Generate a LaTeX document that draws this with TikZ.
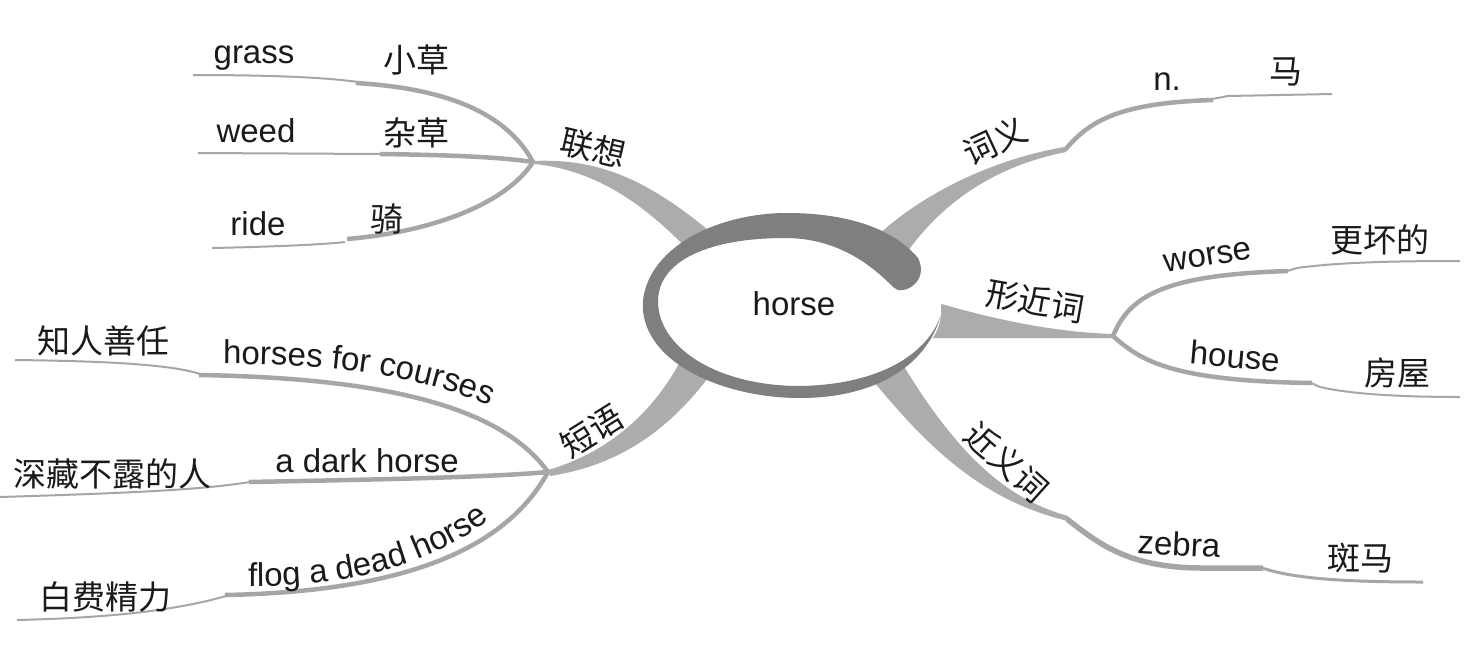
\documentclass[tikz,border=0pt]{standalone}
\usepackage{fontspec}
\setmainfont{Liberation Sans}
\newfontfamily\cjk{Noto Sans CJK SC}
\usetikzlibrary{decorations.text}
\definecolor{ringc}{HTML}{7F7F7F}
\definecolor{brc}{HTML}{ACACAC}
\definecolor{subc}{HTML}{A6A6A6}
\definecolor{txt}{HTML}{1A1A1A}
\begin{document}
\begin{tikzpicture}[x=1pt,y=-1pt,
  en/.style={font=\fontsize{33}{33}\selectfont, text=txt, inner sep=0pt},
  zh/.style={font=\cjk\fontsize{33}{33}\selectfont, text=txt, inner sep=0pt},
  branchfill/.style={fill=brc},
  thickseg/.style={draw=subc, line width=4.5pt},
  thinseg/.style={draw=subc, line width=2pt}]
\useasboundingbox[fill=white] (0,0) rectangle (1464,646);

\coordinate (J1) at (533,162);
\coordinate (J2) at (1065,150);
\coordinate (J3) at (1113,336);
\coordinate (J4) at (1067,519);
\coordinate (J5) at (548,472);

% ---- main branches
\fill[branchfill] (533,161) .. controls (600,158) and (650,180) .. (720,240) -- (700,262) .. controls (660,220) and (610,172) .. (535,164) -- cycle;
\fill[branchfill] (875,238) .. controls (920,195) and (990,160) .. (1064,147) -- (1066,152) .. controls (1000,165) and (945,198) .. (905,255) -- cycle;
\fill[branchfill] (925,300) -- (938,303) .. controls (990,318) and (1050,332) .. (1113,334) -- (1113,338) .. controls (1050,338) and (990,338) .. (930,338) -- cycle;
\fill[branchfill] (866,372) .. controls (925,445) and (980,500) .. (1068,521) -- (1068,516) .. controls (1010,500) and (960,460) .. (900,360) -- cycle;
\fill[branchfill] (548,470) .. controls (600,455) and (650,420) .. (682,358) -- (714,370) .. controls (670,430) and (620,465) .. (550,476) -- cycle;

% ---- sub lines (lianxiang)
\draw[thinseg] (193,75) .. controls (280,75) and (330,78) .. (358,82);
\draw[thickseg] (356,83) .. controls (440,88) and (505,110) .. (J1);
\draw[thinseg] (198,153) -- (380,154);
\draw[thickseg] (380,154) .. controls (450,155) and (500,157) .. (J1);
\draw[thinseg] (212,248) .. controls (260,247) and (320,245) .. (345,242);
\draw[thickseg] (347,239) .. controls (430,232) and (505,205) .. (J1);
% ---- ciyi
\draw[thickseg] (J2) .. controls (1090,120) and (1120,103) .. (1213,100);
\draw[thinseg] (1212,99) -- (1228,96) -- (1332,94);
% ---- xingjinci
\draw[thickseg] (J3) .. controls (1130,295) and (1165,275) .. (1288,271);
\draw[thinseg] (1287,271) -- (1297,268) .. controls (1340,262) and (1400,261) .. (1460,261);
\draw[thickseg] (J3) .. controls (1140,360) and (1170,381) .. (1312,383);
\draw[thinseg] (1311,383) -- (1320,387) .. controls (1350,394) and (1400,397) .. (1460,397);
% ---- jinyici
\draw[thickseg, line width=5.5pt] (J4) .. controls (1100,545) and (1130,568) .. (1203,568) -- (1263,568);
\draw[thinseg, line width=3pt] (1262,568) .. controls (1290,577) and (1330,582) .. (1423,582);
% ---- duanyu
\draw[thinseg] (15,360) .. controls (100,361) and (170,364) .. (200,374);
\draw[thickseg] (199,375) .. controls (380,378) and (500,405) .. (J5);
\draw[thinseg] (0,497) .. controls (130,493) and (200,490) .. (250,482);
\draw[thickseg] (249,482) .. controls (350,480) and (480,478) .. (J5);
\draw[thinseg] (17,620) .. controls (100,618) and (170,612) .. (226,596);
\draw[thickseg] (225,595) .. controls (380,592) and (500,560) .. (J5);

% ---- centre
\fill[white] (800,312) ellipse [x radius=141pt, y radius=76pt];
\fill[white] (941,315) .. controls (925,360) and (870,385) .. (800,386)
  .. controls (720,386) and (660,350) .. (658,303)
  .. controls (657,260) and (710,238) .. (785,238)
  .. controls (830,238) and (865,258) .. (893,287) -- (941,300) -- cycle;
\fill[ringc] (918,258) .. controls (890,225) and (840,213) .. (787,213)
  .. controls (720,213) and (650,245) .. (643,300)
  .. controls (638,360) and (720,398) .. (800,398)
  .. controls (870,398) and (925,370) .. (941,315)
  .. controls (925,360) and (870,385) .. (800,386)
  .. controls (720,386) and (660,350) .. (658,303)
  .. controls (657,260) and (710,238) .. (785,238)
  .. controls (830,238) and (865,258) .. (893,287)
  .. controls (902,297) and (930,282) .. (918,258) -- cycle;
\node[en, anchor=base] (horse) at (794,315) {horse};

% ---- texts
\node[zh, rotate=-13] (lx) at (593,148) {联想};
\node[en, anchor=base] (grass) at (254,63) {grass};
\node[zh] (xc) at (416,60) {小草};
\node[en, anchor=base] (weed) at (256,142) {weed};
\node[zh] (zc) at (416,133) {杂草};
\node[en, anchor=base] (ride) at (258,235) {ride};
\node[zh] (qi) at (387,219) {骑};

\node[zh, rotate=25] (cy) at (995,141) {词义};
\node[en, anchor=base] (n) at (1167,90) {n.};
\node[zh] (ma) at (1286,72) {马};

\node[zh, rotate=-10] (xjc) at (1035,301) {形近词};
\node[en, rotate=9] (worse) at (1208,257) {worse};
\node[zh] (ghd) at (1380,240) {更坏的};
\node[en, rotate=-5] (house) at (1235,356) {house};
\node[zh] (fw) at (1397,373) {房屋};

\node[zh, rotate=-42] (jyc) at (1007,462) {近义词};
\node[en, rotate=-3] (zebra) at (1179,544) {zebra};
\node[zh] (bm) at (1360,558) {斑马};

\node[zh, rotate=32] (dy) at (592,431) {短语};
\node[zh] (zrsr) at (103,341) {知人善任};
\path[decorate, decoration={text along path, text color=txt,
  text={|\fontsize{33}{33}\selectfont|horses for courses}}]
  (223,364) .. controls (330,364) and (430,375) .. (505,413);
\node[zh] (scbl) at (112,474) {深藏不露的人};
\node[en, anchor=base] (dark) at (367,472) {a dark horse};
\node[zh] (bfjl) at (105,597) {白费精力};
\path[decorate, decoration={text along path, text color=txt,
  text={|\fontsize{33}{33}\selectfont|flog a dead horse}}]
  (248,586) .. controls (350,587) and (440,565) .. (507,506);
\end{tikzpicture}
\end{document}
